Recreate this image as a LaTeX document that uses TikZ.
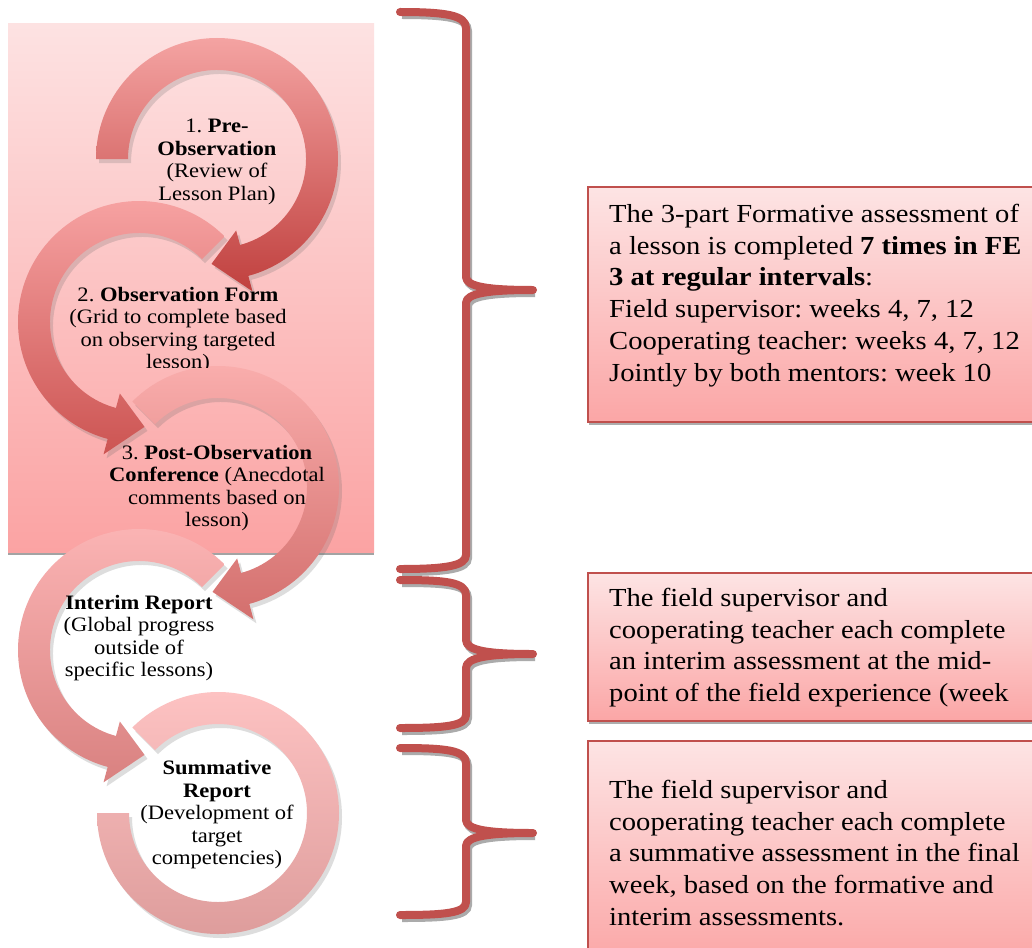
\documentclass[tikz,border=0pt]{standalone}
\usepackage{fontspec}
\setmainfont{Liberation Serif}[FakeStretch=1.1]
\usetikzlibrary{calc,shadows}
\frenchspacing

\definecolor{edgered}{HTML}{C0504D}
\definecolor{paneltop}{HTML}{FDE2E2}
\definecolor{panelbot}{HTML}{FBA3A3}
\definecolor{boxtop}{HTML}{FDE4E4}
\definecolor{boxbot}{HTML}{FBA6A6}
\definecolor{aAtop}{HTML}{F4A3A2}
\definecolor{aAbot}{HTML}{C0403E}
\definecolor{aBtop}{HTML}{F8A5A5}
\definecolor{aBbot}{HTML}{CC5452}
\definecolor{aCtop}{HTML}{FBB0AF}
\definecolor{aCbot}{HTML}{D36F6D}
\definecolor{aDtop}{HTML}{FCB6B6}
\definecolor{aDbot}{HTML}{D98180}
\definecolor{aEtop}{HTML}{FDC2C2}
\definecolor{aEbot}{HTML}{DE9D9C}

\tikzset{
  steptxt/.style={font=\fontsize{20.5}{22.5}\selectfont, align=center, inner sep=0pt},
  boxtxt/.style={font=\fontsize{26}{31.7}\selectfont, align=left, inner sep=0pt, anchor=north west},
  notebox/.style={draw=edgered, line width=1.5pt, top color=boxtop, bottom color=boxbot,
    drop shadow={shadow xshift=1pt, shadow yshift=-3pt, fill=black!40, opacity=.8}},
  panel/.style={top color=paneltop, bottom color=panelbot,
    drop shadow={shadow xshift=0pt, shadow yshift=-3pt, fill=black!40, opacity=.9}},
  bracket/.style={draw=edgered, line width=8pt, line cap=round, line join=round,
    preaction={draw=black!33, line width=8pt, transform canvas={shift={(2pt,-3pt)}}}},
  ring/.style 2 args={top color=#1, bottom color=#2,
    drop shadow={shadow xshift=3pt, shadow yshift=-4pt, fill=black!60, opacity=.22}},
  % circular band from angle #2 to #3 around centre #1, ending in a head; #4 = head sweep
  headarc/.style n args={4}{insert path={
    ($(#1)+(#2:121)$) arc[start angle=#2, end angle=#3, radius=121]
    -- ($(#1)+(#3:137)$) -- ($(#1)+({#3+(#4)}:105)$) -- ($(#1)+(#3:74)$)
    -- ($(#1)+(#3:89)$) arc[start angle=#3, end angle=#2, radius=89] -- cycle}}
}

\begin{document}
\begin{tikzpicture}[x=1pt,y=1pt]
\useasboundingbox (0,0) rectangle (1032,-947);
\clip (0,0) rectangle (1032,-947);
\fill[white] (0,0) rectangle (1032,-947);

% formative panel
\path[panel] (8,-24) rectangle (374,-552);

% centres of the circular steps
\coordinate (c1) at (217,-159);
\coordinate (c2) at (139,-322);
\coordinate (c3) at (218,-487);
\coordinate (c4) at (139,-650);
\coordinate (c5) at (218,-813);

% circular arrows, last one first so each head lies on the next tail
\path[ring={aEtop}{aEbot}] ($(c5)+(-180:121)$) arc[start angle=-180, end angle=135, radius=121]
  -- ($(c5)+(135:89)$) arc[start angle=135, end angle=-180, radius=89] -- cycle;
\path[ring={aDtop}{aDbot}, headarc={c4}{45}{255}{18}];
\path[ring={aCtop}{aCbot}, headarc={c3}{135}{-75}{-18}];
\path[ring={aBtop}{aBbot}, headarc={c2}{45}{255}{18}];
\path[ring={aAtop}{aAbot}, headarc={c1}{180}{-75}{-18}];

% step labels
\node[steptxt] (s1) at (217,-162) {1. \textbf{Pre-}\\\textbf{Observation}\\(Review of\\Lesson Plan)};
\begin{scope}
  \clip (0,-270) rectangle (374,-367);
  \node[steptxt] (s2) at (178,-330) {2. \textbf{Observation Form}\\(Grid to complete based\\on observing targeted\\lesson)};
\end{scope}
\node[steptxt] (s3) at (217,-488) {3. \textbf{Post-Observation}\\\textbf{Conference} (Anecdotal\\comments based on\\lesson)};
\node[steptxt] (s4) at (139,-638) {\textbf{Interim Report}\\(Global progress\\outside of\\specific lessons)};
\node[steptxt] (s5) at (217,-815) {\textbf{Summative}\\\textbf{Report}\\(Development of\\target\\competencies)};

% braces
\draw[bracket] (400,-12) .. controls (445,-12) and (466,-15) .. (466,-28) -- (466,-277)
  .. controls (466,-287) and (490,-290) .. (533,-290)
  .. controls (490,-290) and (466,-293) .. (466,-303) -- (466,-555)
  .. controls (466,-566) and (445,-569) .. (400,-569);
\draw[bracket] (400,-580) .. controls (445,-580) and (466,-582) .. (466,-595) -- (466,-640)
  .. controls (466,-651) and (490,-654) .. (533,-654)
  .. controls (490,-654) and (466,-657) .. (466,-668) -- (466,-715)
  .. controls (466,-726) and (445,-728) .. (400,-728);
\draw[bracket] (400,-748) .. controls (445,-748) and (466,-750) .. (466,-763) -- (466,-820)
  .. controls (466,-830) and (490,-833) .. (533,-833)
  .. controls (490,-833) and (466,-836) .. (466,-846) -- (466,-902)
  .. controls (466,-913) and (445,-915) .. (400,-915);

% note boxes
\path[notebox] (588,-187) rectangle (1045,-422);
\path[notebox] (588,-573) rectangle (1045,-721);
\path[notebox] (588,-741) rectangle (1045,-965);

\node[boxtxt] (n1) at (609,-204) {The 3-part Formative assessment of\\a lesson is completed \textbf{7 times in FE}\\\textbf{3 at regular intervals}:\\Field supervisor: weeks 4, 7, 12\\Cooperating teacher: weeks 4, 7, 12\\Jointly by both mentors: week 10};
\node[boxtxt] (n2) at (609,-588) {The field supervisor and\\cooperating teacher each complete\\an interim assessment at the mid-\\point of the field experience (week};
\node[boxtxt] (n3) at (609,-780) {The field supervisor and\\cooperating teacher each complete\\a summative assessment in the final\\week, based on the formative and\\interim assessments.};
\end{tikzpicture}
\end{document}
